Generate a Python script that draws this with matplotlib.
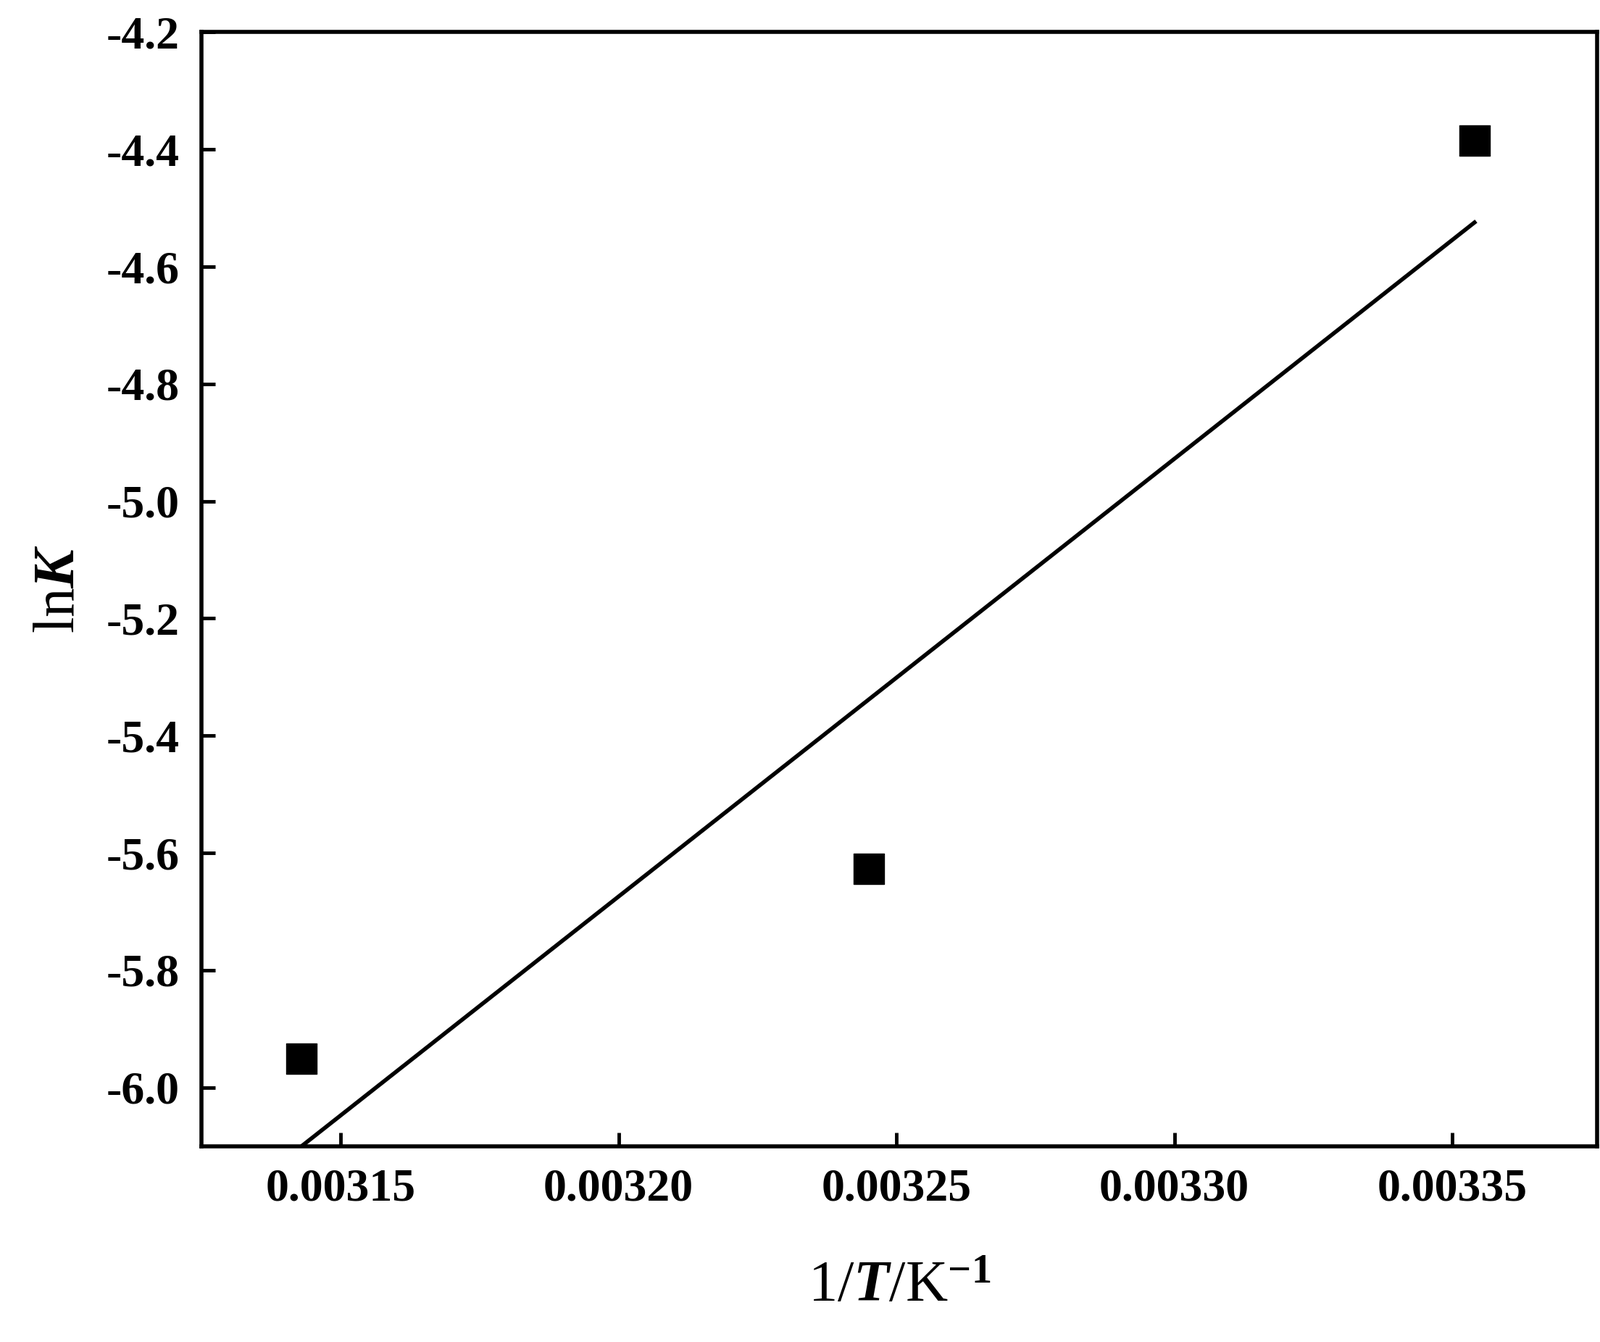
import numpy as np
import matplotlib
matplotlib.use("Agg")
import matplotlib.pyplot as plt

invT = [0.003143, 0.003245, 0.003354]
lnK = [-5.951, -5.627, -4.385]

plt.rcParams['font.family'] = ['Liberation Serif', 'DejaVu Serif']
plt.rcParams['font.weight'] = 'bold'
plt.rcParams['mathtext.fontset'] = 'custom'
plt.rcParams['mathtext.rm'] = 'Liberation Serif:bold'
plt.rcParams['mathtext.it'] = 'Liberation Serif:bold:italic'
plt.rcParams['mathtext.bf'] = 'Liberation Serif:bold'

fig = plt.figure(figsize=(22.08, 18.52), dpi=100)
ax = fig.add_axes([0.126, 0.146, 0.872, 0.83])
ax.scatter(invT, lnK, marker='s', s=900, color='black', zorder=3)
p = np.polyfit(invT, lnK, 1)
xs = np.linspace(invT[0], invT[-1], 100)
ax.plot(xs, np.polyval(p, xs), color='black', lw=4)

ax.set_xlim(0.003125, 0.003376)
ax.set_ylim(-6.1, -4.2)
ax.set_xticks([0.00315, 0.00320, 0.00325, 0.00330, 0.00335])
ax.set_xticklabels(['0.00315', '0.00320', '0.00325', '0.00330', '0.00335'])
ax.set_yticks(np.arange(-6.0, -4.19, 0.2))
ax.set_yticklabels(['%.1f' % v for v in np.arange(-6.0, -4.19, 0.2)])
ax.tick_params(direction='in', length=14, width=3.5, labelsize=46, pad=22)
for s in ax.spines.values():
    s.set_linewidth(4)
ax.set_xlabel(r'1/$\mathit{T}$/K$^{-1}$', fontsize=58, labelpad=50)
ax.set_ylabel(r'ln$\mathit{K}$', fontsize=58, labelpad=20)
fig.savefig('out.png', dpi=100)
